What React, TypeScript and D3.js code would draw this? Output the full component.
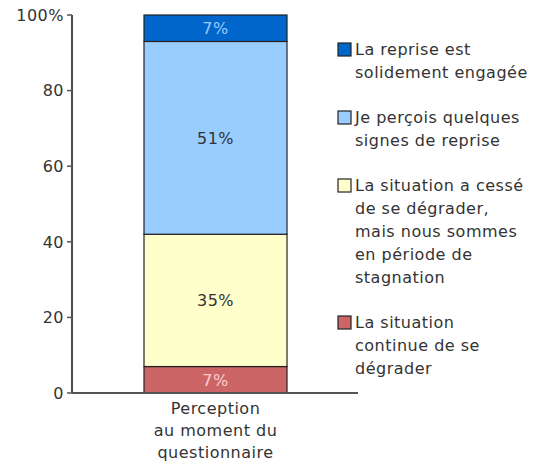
import React, { useEffect, useRef } from "react";
import * as d3 from "d3";

// values (bottom to top)
const seriesNames = [
  "La situation continue de se dégrader",
  "La situation a cessé de se dégrader, mais nous sommes en période de stagnation",
  "Je perçois quelques signes de reprise",
  "La reprise est solidement engagée",
];
const seriesValues = [7, 35, 51, 7];
const seriesColors = ["#cc6666", "#ffffcc", "#99ccff", "#0066cc"];
const labelColors = ["#ffcccc", "#333333", "#333333", "#99ccff"];
const category = ["Perception", "au moment du", "questionnaire"];
const yTicks = [0, 20, 40, 60, 80, 100];

// legend, top to bottom, with the line breaks of the picture
const legendLines = [
  ["La reprise est", "solidement engagée"],
  ["Je perçois quelques", "signes de reprise"],
  ["La situation a cessé", "de se dégrader,", "mais nous sommes", "en période de", "stagnation"],
  ["La situation", "continue de se", "dégrader"],
];
const legendColors = ["#0066cc", "#99ccff", "#ffffcc", "#cc6666"];

const W = 534;
const H = 464;
const FONT = "Verdana, 'DejaVu Sans', sans-serif";
const FS = 16;
const LS = "0.5px";

const App = () => {
  const ref = useRef<SVGSVGElement>(null);

  useEffect(() => {
    const svg = d3.select(ref.current);
    svg.selectAll("*").remove();

    const y = d3.scaleLinear().domain([0, 100]).range([393, 15]);
    const axisX = 72;
    const barX = 144;
    const barW = 143;
    const xEnd = 358;

    // stacked segments
    let acc = 0;
    const segs = seriesValues.map((v, i) => {
      const s = { y0: acc, y1: acc + v, v, i };
      acc += v;
      return s;
    });

    const g = svg.append("g");
    g.selectAll("rect.seg")
      .data(segs)
      .enter()
      .append("rect")
      .attr("x", barX)
      .attr("y", (d) => y(d.y1))
      .attr("width", barW)
      .attr("height", (d) => y(d.y0) - y(d.y1))
      .attr("fill", (d) => seriesColors[d.i])
      .attr("stroke", "#222")
      .attr("stroke-width", 1.2);

    g.selectAll("text.seg")
      .data(segs)
      .enter()
      .append("text")
      .attr("x", barX + barW / 2)
      .attr("y", (d) => (y(d.y0) + y(d.y1)) / 2)
      .attr("dy", "0.36em")
      .attr("text-anchor", "middle")
      .attr("font-family", FONT)
      .attr("font-size", FS)
      .attr("letter-spacing", LS)
      .attr("fill", (d) => labelColors[d.i])
      .text((d) => `${d.v}%`);

    // y axis
    const yAxis = g.append("g").attr("transform", `translate(${axisX},0)`);
    yAxis
      .append("line")
      .attr("x1", 0)
      .attr("x2", 0)
      .attr("y1", y(100))
      .attr("y2", y(0))
      .attr("stroke", "#111")
      .attr("stroke-width", 1.5);
    yTicks.forEach((t) => {
      yAxis
        .append("line")
        .attr("x1", -5)
        .attr("x2", 0)
        .attr("y1", y(t))
        .attr("y2", y(t))
        .attr("stroke", "#555")
        .attr("stroke-width", 1.5);
      yAxis
        .append("text")
        .attr("x", -8)
        .attr("y", y(t))
        .attr("dy", "0.36em")
        .attr("text-anchor", "end")
        .attr("font-family", FONT)
        .attr("font-size", FS)
        .attr("letter-spacing", LS)
        .attr("fill", "#333")
        .text(t === 100 ? "100%" : String(t));
    });

    // x axis
    g.append("line")
      .attr("x1", axisX)
      .attr("x2", xEnd)
      .attr("y1", y(0))
      .attr("y2", y(0))
      .attr("stroke", "#555")
      .attr("stroke-width", 2);

    g.append("text")
      .attr("text-anchor", "middle")
      .attr("font-family", FONT)
      .attr("font-size", FS)
      .attr("letter-spacing", LS)
      .attr("fill", "#333")
      .selectAll("tspan")
      .data(category)
      .enter()
      .append("tspan")
      .attr("x", barX + barW / 2)
      .attr("y", (_, i) => y(0) + 21 + i * 22)
      .text((d) => d);

    // legend
    const lineH = 23;
    const gap = 22;
    let ly = 43;
    legendLines.forEach((lines, i) => {
      const lg = g.append("g").attr("transform", `translate(338,${ly})`);
      lg.append("rect")
        .attr("x", 0)
        .attr("y", 0)
        .attr("width", 13)
        .attr("height", 13)
        .attr("fill", legendColors[i])
        .attr("stroke", "#222")
        .attr("stroke-width", 1.2);
      lg.append("text")
        .attr("font-family", FONT)
        .attr("font-size", FS)
        .attr("letter-spacing", LS)
        .attr("fill", "#333")
        .selectAll("tspan")
        .data(lines)
        .enter()
        .append("tspan")
        .attr("x", 17)
        .attr("y", (_, j) => 12 + j * lineH)
        .text((d) => d);
      ly += lines.length * lineH + gap;
    });
  }, []);

  return (
    <svg
      ref={ref}
      width={W}
      height={H}
      style={{ position: "absolute", left: 0, top: 0 }}
    />
  );
};

export default App;
